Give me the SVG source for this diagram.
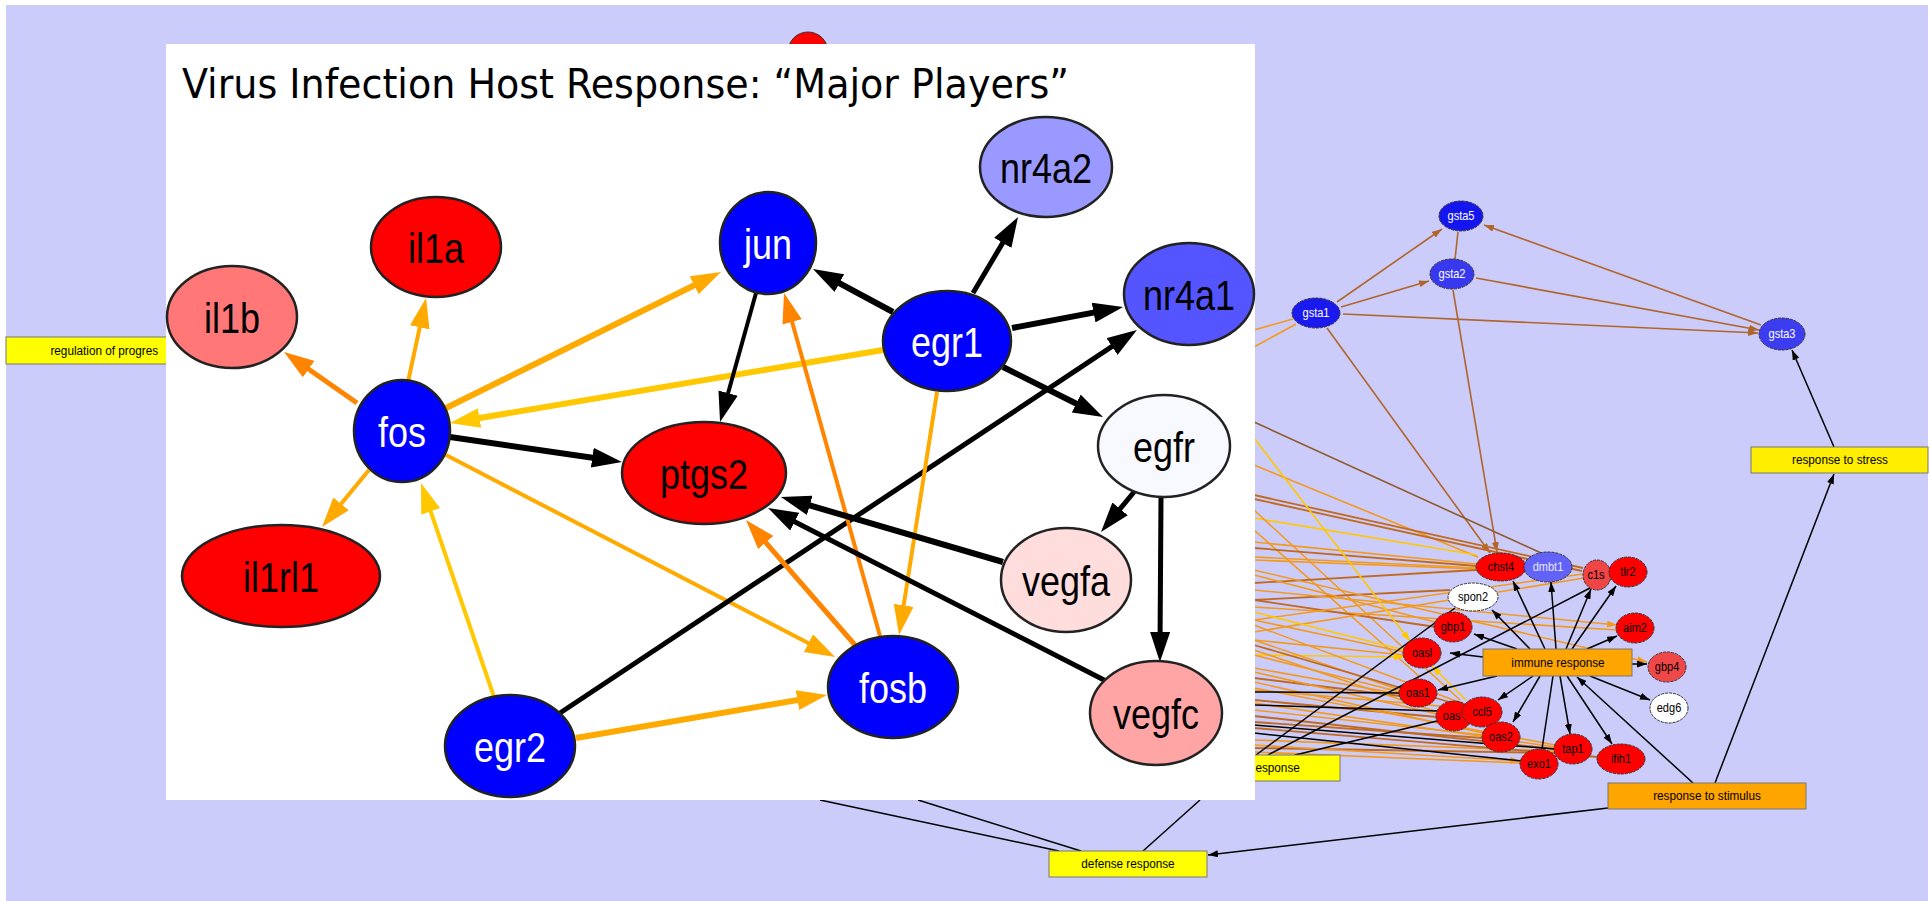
<svg xmlns="http://www.w3.org/2000/svg" width="1931" height="901" viewBox="0 0 1931 901">
<style>
.bgk{stroke:#000;stroke-width:1.5;fill:none}
.gs{stroke:#B0652B;stroke-width:1.6;fill:none}
.ho{stroke:#F39A1E;stroke-width:1.6;fill:none}
.hb{stroke:#C0691F;stroke-width:1.8;fill:none}
.hy{stroke:#FFC800;stroke-width:1.6;fill:none}
.sn{stroke:#333;stroke-width:1;stroke-dasharray:3 1}
.sl{font-family:"Liberation Sans",Arial,sans-serif;font-size:12px;text-anchor:middle;transform-box:fill-box;transform-origin:center;transform:scale(0.92,1.08)}
.bx{stroke:#777;stroke-width:1}
.bl{font-family:"Liberation Sans",Arial,sans-serif;font-size:12.5px;text-anchor:middle;fill:#000;transform-box:fill-box;transform-origin:center;transform:scale(0.94,1.08)}
.ek{stroke:#000;fill:none}
.eo{stroke:#FF8400;fill:none}
.ea{stroke:#FFAA00;fill:none}
.ey{stroke:#FFC800;fill:none}
.bn{stroke:#222;stroke-width:2.5}
.bt{font-family:"Liberation Sans",Arial,sans-serif;font-size:40px;text-anchor:middle;transform-box:fill-box;transform-origin:center;transform:scale(0.9,1.06)}
</style>
<defs>
<marker id="mk" markerUnits="userSpaceOnUse" markerWidth="30" markerHeight="20" refX="16" refY="10" orient="auto"><path d="M0,0 L30,10 L0,20 z" fill="#000"/></marker>
<marker id="mo" markerUnits="userSpaceOnUse" markerWidth="30" markerHeight="20" refX="16" refY="10" orient="auto"><path d="M0,0 L30,10 L0,20 z" fill="#FF8400"/></marker>
<marker id="ma" markerUnits="userSpaceOnUse" markerWidth="30" markerHeight="20" refX="16" refY="10" orient="auto"><path d="M0,0 L30,10 L0,20 z" fill="#FFAA00"/></marker>
<marker id="my" markerUnits="userSpaceOnUse" markerWidth="30" markerHeight="20" refX="16" refY="10" orient="auto"><path d="M0,0 L30,10 L0,20 z" fill="#FFC800"/></marker>
<marker id="sk" markerUnits="userSpaceOnUse" markerWidth="10" markerHeight="7" refX="10" refY="3.5" orient="auto"><path d="M0,0 L10,3.5 L0,7 z" fill="#000"/></marker>
<marker id="sb" markerUnits="userSpaceOnUse" markerWidth="10" markerHeight="7" refX="10" refY="3.5" orient="auto"><path d="M0,0 L10,3.5 L0,7 z" fill="#B0652B"/></marker>
<marker id="so" markerUnits="userSpaceOnUse" markerWidth="10" markerHeight="7" refX="10" refY="3.5" orient="auto"><path d="M0,0 L10,3.5 L0,7 z" fill="#F39A1E"/></marker>
<marker id="sy" markerUnits="userSpaceOnUse" markerWidth="10" markerHeight="7" refX="10" refY="3.5" orient="auto"><path d="M0,0 L10,3.5 L0,7 z" fill="#FFC800"/></marker>
</defs>
<rect x="0" y="0" width="1931" height="901" fill="#fff"/>
<rect x="6" y="5" width="1922" height="896" fill="#CCCCFA"/>

<g id="bg-connectors">
<line class="gs" x1="1337" y1="302" x2="1442" y2="229" marker-end="url(#sb)"/>
<line class="gs" x1="1341" y1="307" x2="1429" y2="281" marker-end="url(#sb)"/>
<line class="gs" x1="1343" y1="314" x2="1758" y2="333" marker-end="url(#sb)"/>
<line class="gs" x1="1455" y1="259" x2="1458" y2="232"/>
<line class="gs" x1="1476" y1="278" x2="1759" y2="330" marker-end="url(#sb)"/>
<line class="gs" x1="1761" y1="325" x2="1484" y2="225" marker-end="url(#sb)"/>
<line class="gs" x1="1327" y1="328" x2="1490" y2="553" marker-end="url(#sb)"/>
<line class="gs" x1="1453" y1="290" x2="1497" y2="552" marker-end="url(#sb)"/>
<line class="gs" x1="1254" y1="422" x2="1541" y2="553" style="stroke:#8E5A2C"/>
<line class="ho" x1="1254" y1="330" x2="1293" y2="319"/>
<line class="ho" x1="1254" y1="347" x2="1296" y2="324"/>
<line class="ho" x1="1254" y1="465" x2="1478" y2="557"/>
<line class="hb" x1="1254" y1="495" x2="1583" y2="568"/>
<line class="hb" x1="1254" y1="499" x2="1582" y2="571"/>
<line class="hy" x1="1254" y1="518" x2="1477" y2="555"/>
<line class="ho" x1="1254" y1="510" x2="1460" y2="700"/>
<line class="ho" x1="1254" y1="530" x2="1420" y2="677"/>
<line class="ho" x1="1254" y1="542" x2="1477" y2="564"/>
<line class="hb" x1="1254" y1="548" x2="1477" y2="566"/>
<line class="ho" x1="1254" y1="557" x2="1477" y2="568"/>
<line class="ho" x1="1254" y1="560" x2="1477" y2="569"/>
<line class="hb" x1="1254" y1="583" x2="1476" y2="570"/>
<line class="hb" x1="1254" y1="600" x2="1450" y2="590"/>
<line class="ho" x1="1254" y1="590" x2="1617" y2="625" marker-end="url(#so)"/>
<line class="ho" x1="1254" y1="607" x2="1617" y2="630"/>
<line class="ho" x1="1254" y1="570" x2="1647" y2="662" marker-end="url(#so)"/>
<line class="ho" x1="1254" y1="575" x2="1435" y2="622"/>
<line class="hb" x1="1254" y1="600" x2="1436" y2="627"/>
<line class="ho" x1="1254" y1="620" x2="1583" y2="574"/>
<line class="ho" x1="1254" y1="632" x2="1584" y2="578"/>
<line class="ho" x1="1254" y1="620" x2="1404" y2="652"/>
<line class="ho" x1="1254" y1="640" x2="1404" y2="655"/>
<line class="hy" x1="1254" y1="438" x2="1410" y2="641" marker-end="url(#sy)"/>
<line class="hy" x1="1254" y1="655" x2="1404" y2="657" marker-end="url(#sy)"/>
<line class="hy" x1="1254" y1="612" x2="1404" y2="650"/>
<line class="ho" x1="1254" y1="640" x2="1400" y2="690"/>
<line class="ho" x1="1254" y1="655" x2="1400" y2="692"/>
<line class="ho" x1="1254" y1="668" x2="1400" y2="694"/>
<line class="hb" x1="1254" y1="678" x2="1400" y2="696"/>
<line class="ho" x1="1254" y1="650" x2="1437" y2="712"/>
<line class="ho" x1="1254" y1="672" x2="1437" y2="714"/>
<line class="hb" x1="1254" y1="700" x2="1437" y2="717"/>
<line class="ho" x1="1254" y1="690" x2="1463" y2="708"/>
<line class="ho" x1="1254" y1="625" x2="1464" y2="704"/>
<line class="hb" x1="1254" y1="645" x2="1463" y2="706"/>
<line class="ho" x1="1254" y1="682" x2="1483" y2="733"/>
<line class="ho" x1="1254" y1="710" x2="1483" y2="735"/>
<line class="hb" x1="1254" y1="722" x2="1483" y2="738"/>
<line class="ho" x1="1254" y1="688" x2="1555" y2="745"/>
<line class="ho" x1="1254" y1="703" x2="1555" y2="747"/>
<line class="hb" x1="1254" y1="716" x2="1555" y2="749"/>
<line class="ho" x1="1254" y1="740" x2="1555" y2="751"/>
<line class="hb" x1="1254" y1="748" x2="1555" y2="753"/>
<line class="ho" x1="1254" y1="745" x2="1520" y2="761" marker-end="url(#so)"/>
<line class="ho" x1="1254" y1="752" x2="1520" y2="763"/>
<line class="hb" x1="1254" y1="728" x2="1598" y2="757"/>
<line class="hy" x1="1466" y1="700" x2="1432" y2="666" marker-end="url(#sy)"/>
<line class="bgk" x1="1254" y1="692" x2="1400" y2="693"/>
<line class="bgk" x1="1254" y1="705" x2="1437" y2="711"/>
<line class="bgk" x1="1254" y1="725" x2="1555" y2="749"/>
<line class="bgk" x1="1254" y1="733" x2="1522" y2="761"/>
<line class="bgk" x1="1256" y1="755" x2="1455" y2="608"/>
<line class="bgk" x1="1268" y1="755" x2="1590" y2="588"/>
<line class="bgk" x1="1295" y1="755" x2="1437" y2="721"/>
<line class="bgk" x1="1545" y1="649" x2="1513" y2="581" marker-end="url(#sk)"/>
<line class="bgk" x1="1556" y1="649" x2="1551" y2="582" marker-end="url(#sk)"/>
<line class="bgk" x1="1566" y1="649" x2="1591" y2="589" marker-end="url(#sk)"/>
<line class="bgk" x1="1572" y1="649" x2="1616" y2="586" marker-end="url(#sk)"/>
<line class="bgk" x1="1530" y1="649" x2="1492" y2="610" marker-end="url(#sk)"/>
<line class="bgk" x1="1517" y1="649" x2="1474" y2="634" marker-end="url(#sk)"/>
<line class="bgk" x1="1587" y1="649" x2="1617" y2="636" marker-end="url(#sk)"/>
<line class="bgk" x1="1483" y1="657" x2="1450" y2="653" marker-end="url(#sk)"/>
<line class="bgk" x1="1632" y1="664" x2="1647" y2="664" marker-end="url(#sk)"/>
<line class="bgk" x1="1497" y1="676" x2="1438" y2="690" marker-end="url(#sk)"/>
<line class="bgk" x1="1533" y1="676" x2="1498" y2="700" marker-end="url(#sk)"/>
<line class="bgk" x1="1540" y1="676" x2="1513" y2="722" marker-end="url(#sk)"/>
<line class="bgk" x1="1553" y1="676" x2="1542" y2="749"/>
<line class="bgk" x1="1560" y1="676" x2="1570" y2="734" marker-end="url(#sk)"/>
<line class="bgk" x1="1567" y1="676" x2="1612" y2="744" marker-end="url(#sk)"/>
<line class="bgk" x1="1590" y1="676" x2="1650" y2="700" marker-end="url(#sk)"/>
<line class="bgk" x1="1693" y1="783" x2="1577" y2="677" marker-end="url(#sk)"/>
<line class="bgk" x1="1715" y1="783" x2="1834" y2="474" marker-end="url(#sk)"/>
<line class="bgk" x1="1834" y1="447" x2="1792" y2="350" marker-end="url(#sk)"/>
<line class="bgk" x1="1608" y1="808" x2="1208" y2="855" marker-end="url(#sk)"/>
<line class="bgk" x1="820" y1="800" x2="1059" y2="851"/>
<line class="bgk" x1="918" y1="800" x2="1081" y2="851"/>
<line class="bgk" x1="1200" y1="800" x2="1143" y2="851"/>
</g>

<g id="bg-nodes">
<g id="node-regulation"><rect class="bx" x="6" y="337" width="180" height="27" fill="#FFFF00"/><text class="bl" x="47" y="355" style="text-anchor:start">regulation of progres</text></g>
<g id="node-red-top"><circle cx="808" cy="52" r="20" fill="#FF0000" stroke="#333" stroke-width="1"/></g>
<g id="node-gsta5"><ellipse class="sn" cx="1461" cy="216" rx="22" ry="15" fill="#1515EE"/><text class="sl" x="1461" y="220" fill="#fff">gsta5</text></g>
<g id="node-gsta2"><ellipse class="sn" cx="1452" cy="274" rx="22" ry="15" fill="#3838EE"/><text class="sl" x="1452" y="278" fill="#fff">gsta2</text></g>
<g id="node-gsta1"><ellipse class="sn" cx="1316" cy="313" rx="24" ry="15" fill="#1A1AEE"/><text class="sl" x="1316" y="317" fill="#fff">gsta1</text></g>
<g id="node-gsta3"><ellipse class="sn" cx="1782" cy="334" rx="23" ry="16" fill="#3C3CF0"/><text class="sl" x="1782" y="338" fill="#fff">gsta3</text></g>
<g id="node-stress"><rect class="bx" x="1751" y="447" width="177" height="26" fill="#FFEE00"/><text class="bl" x="1840" y="464">response to stress</text></g>
<g id="node-chst4"><ellipse class="sn" cx="1501" cy="567" rx="25" ry="14" fill="#FF0000"/><text class="sl" x="1501" y="571">chst4</text></g>
<g id="node-dmbt1"><ellipse class="sn" cx="1548" cy="567" rx="24" ry="15" fill="#6262F8"/><text class="sl" x="1548" y="571" fill="#e8e8ff">dmbt1</text></g>
<g id="node-c1s"><ellipse class="sn" cx="1597" cy="575" rx="14" ry="15" fill="#F04545"/><text class="sl" x="1596" y="579">c1s</text></g>
<g id="node-tlr2"><ellipse class="sn" cx="1628" cy="572" rx="19" ry="15" fill="#FF0000"/><text class="sl" x="1628" y="576">tlr2</text></g>
<g id="node-spon2"><ellipse class="sn" cx="1473" cy="597" rx="25" ry="14" fill="#FFFFFF"/><text class="sl" x="1473" y="601">spon2</text></g>
<g id="node-gbp1"><ellipse class="sn" cx="1453" cy="627" rx="19" ry="15" fill="#FF0000"/><text class="sl" x="1453" y="631">gbp1</text></g>
<g id="node-aim2"><ellipse class="sn" cx="1635" cy="628" rx="19" ry="15" fill="#FF0000"/><text class="sl" x="1635" y="632">aim2</text></g>
<g id="node-oasl"><ellipse class="sn" cx="1422" cy="653" rx="19" ry="15" fill="#FF0000"/><text class="sl" x="1422" y="657">oasl</text></g>
<g id="node-immune"><rect class="bx" x="1483" y="649" width="149" height="27" fill="#FFA500"/><text class="bl" x="1558" y="667">immune response</text></g>
<g id="node-gbp4"><ellipse class="sn" cx="1667" cy="667" rx="19" ry="15" fill="#F04848"/><text class="sl" x="1667" y="671">gbp4</text></g>
<g id="node-oas1"><ellipse class="sn" cx="1418" cy="693" rx="19" ry="14" fill="#FF0000"/><text class="sl" x="1418" y="697">oas1</text></g>
<g id="node-oas3"><ellipse class="sn" cx="1454" cy="716" rx="18" ry="15" fill="#FF0000"/><text class="sl" x="1442" y="720" style="text-anchor:start">oas</text></g>
<g id="node-ccl5"><ellipse class="sn" cx="1482" cy="712" rx="20" ry="15" fill="#FF0000"/><text class="sl" x="1482" y="716">ccl5</text></g>
<g id="node-edg6"><ellipse class="sn" cx="1669" cy="708" rx="19" ry="15" fill="#FFFFFF"/><text class="sl" x="1669" y="712">edg6</text></g>
<g id="node-oas2"><ellipse class="sn" cx="1501" cy="737" rx="19" ry="15" fill="#FF0000"/><text class="sl" x="1501" y="741">oas2</text></g>
<g id="node-exo1"><ellipse class="sn" cx="1539" cy="764" rx="19" ry="15" fill="#FF0000"/><text class="sl" x="1539" y="768">exo1</text></g>
<g id="node-tap1"><ellipse class="sn" cx="1573" cy="749" rx="19" ry="15" fill="#FF0000"/><text class="sl" x="1573" y="753">tap1</text></g>
<g id="node-ifih1"><ellipse class="sn" cx="1621" cy="759" rx="24" ry="15" fill="#FF0000"/><text class="sl" x="1621" y="763">ifih1</text></g>
<g id="node-stimulus"><rect class="bx" x="1608" y="783" width="198" height="26" fill="#FFA500"/><text class="bl" x="1707" y="800">response to stimulus</text></g>
<g id="node-defense"><rect class="bx" x="1049" y="851" width="158" height="26" fill="#FFFF00"/><text class="bl" x="1128" y="868">defense response</text></g>
<g id="node-esponse"><rect class="bx" x="1240" y="755" width="100" height="26" fill="#FFFF00"/><text class="bl" x="1254" y="772" style="text-anchor:start">esponse</text></g>
</g>

<g id="panel">
<rect x="166" y="44" width="1089" height="756" fill="#FFFFFF"/>
<text x="182" y="98" font-family="'DejaVu Sans Condensed','DejaVu Sans',sans-serif" font-size="41" textLength="887" lengthAdjust="spacingAndGlyphs" fill="#000">Virus Infection Host Response: “Major Players”</text>
</g>

<g id="connectors">
<line class="eo" stroke-width="5" x1="357" y1="403" x2="295.5" y2="360" marker-end="url(#mo)"/>
<line class="ea" stroke-width="4" x1="408" y1="382" x2="423.1" y2="311.7" marker-end="url(#ma)"/>
<line class="ea" stroke-width="6" x1="446" y1="408" x2="708.5" y2="278.2" marker-end="url(#ma)"/>
<line class="ey" stroke-width="6" x1="883" y1="350" x2="463.8" y2="420.7" marker-end="url(#my)"/>
<line class="ek" stroke-width="6" x1="893" y1="312" x2="825.3" y2="275.6" marker-end="url(#mk)"/>
<line class="ek" stroke-width="5" x1="973" y1="293" x2="1010.9" y2="229.1" marker-end="url(#mk)"/>
<line class="ek" stroke-width="6" x1="1012" y1="328" x2="1109.3" y2="309.6" marker-end="url(#mk)"/>
<line class="ek" stroke-width="6" x1="1003" y1="367" x2="1090.5" y2="410.7" marker-end="url(#mk)"/>
<line class="ek" stroke-width="4" x1="756" y1="293" x2="723.8" y2="408.5" marker-end="url(#mk)"/>
<line class="ek" stroke-width="6" x1="450" y1="437" x2="608.1" y2="460" marker-end="url(#mk)"/>
<line class="ea" stroke-width="4" x1="369" y1="470" x2="330.9" y2="516.2" marker-end="url(#ma)"/>
<line class="ea" stroke-width="4" x1="446" y1="455" x2="822.6" y2="650.5" marker-end="url(#ma)"/>
<line class="ey" stroke-width="4" x1="494" y1="697" x2="425.5" y2="496.3" marker-end="url(#my)"/>
<line class="ek" stroke-width="5" x1="560" y1="713" x2="1125.3" y2="337.7" marker-end="url(#mk)"/>
<line class="ea" stroke-width="6" x1="576" y1="738" x2="813.2" y2="697.4" marker-end="url(#ma)"/>
<line class="eo" stroke-width="5" x1="855" y1="645" x2="755.2" y2="530.5" marker-end="url(#mo)"/>
<line class="eo" stroke-width="4" x1="880" y1="636" x2="787.8" y2="306.5" marker-end="url(#mo)"/>
<line class="ea" stroke-width="4" x1="937" y1="392" x2="901.2" y2="621.2" marker-end="url(#ma)"/>
<line class="ek" stroke-width="6" x1="1003" y1="562" x2="794.4" y2="500.9" marker-end="url(#mk)"/>
<line class="ek" stroke-width="5" x1="1106" y1="681" x2="780.5" y2="514.4" marker-end="url(#mk)"/>
<line class="ek" stroke-width="5" x1="1134" y1="492" x2="1109.9" y2="521.2" marker-end="url(#mk)"/>
<line class="ek" stroke-width="5" x1="1161" y1="497" x2="1160" y2="648" marker-end="url(#mk)"/>
</g>

<g id="node-il1b"><ellipse class="bn" cx="232" cy="317" rx="65" ry="51" fill="#FF7777"/><text class="bt" x="232" y="332">il1b</text></g>
<g id="node-il1a"><ellipse class="bn" cx="436" cy="247" rx="65" ry="50" fill="#FF0000"/><text class="bt" x="436" y="262">il1a</text></g>
<g id="node-jun"><ellipse class="bn" cx="768" cy="243" rx="48" ry="51" fill="#0000FF"/><text class="bt" x="768" y="258" fill="#fff">jun</text></g>
<g id="node-nr4a2"><ellipse class="bn" cx="1046" cy="167" rx="66" ry="50" fill="#9999FF"/><text class="bt" x="1046" y="182">nr4a2</text></g>
<g id="node-egr1"><ellipse class="bn" cx="947" cy="341" rx="64" ry="50" fill="#0000FF"/><text class="bt" x="947" y="356" fill="#fff">egr1</text></g>
<g id="node-nr4a1"><ellipse class="bn" cx="1189" cy="294" rx="65" ry="51" fill="#5555FF"/><text class="bt" x="1189" y="309">nr4a1</text></g>
<g id="node-fos"><ellipse class="bn" cx="402" cy="431" rx="48" ry="51" fill="#0000FF"/><text class="bt" x="402" y="446" fill="#fff">fos</text></g>
<g id="node-ptgs2"><ellipse class="bn" cx="704" cy="473" rx="82" ry="51" fill="#FF0000"/><text class="bt" x="704" y="488">ptgs2</text></g>
<g id="node-egfr"><ellipse class="bn" cx="1164" cy="446" rx="66" ry="51" fill="#F8F8FF"/><text class="bt" x="1164" y="461">egfr</text></g>
<g id="node-il1rl1"><ellipse class="bn" cx="281" cy="576" rx="99" ry="51" fill="#FF0000"/><text class="bt" x="281" y="591">il1rl1</text></g>
<g id="node-vegfa"><ellipse class="bn" cx="1066" cy="580" rx="65" ry="52" fill="#FFDDDD"/><text class="bt" x="1066" y="595">vegfa</text></g>
<g id="node-fosb"><ellipse class="bn" cx="893" cy="687" rx="65" ry="51" fill="#0000FF"/><text class="bt" x="893" y="702" fill="#fff">fosb</text></g>
<g id="node-vegfc"><ellipse class="bn" cx="1156" cy="713" rx="66" ry="52" fill="#FFA5A5"/><text class="bt" x="1156" y="728">vegfc</text></g>
<g id="node-egr2"><ellipse class="bn" cx="510" cy="746" rx="65" ry="51" fill="#0000FF"/><text class="bt" x="510" y="761" fill="#fff">egr2</text></g>
</svg>
